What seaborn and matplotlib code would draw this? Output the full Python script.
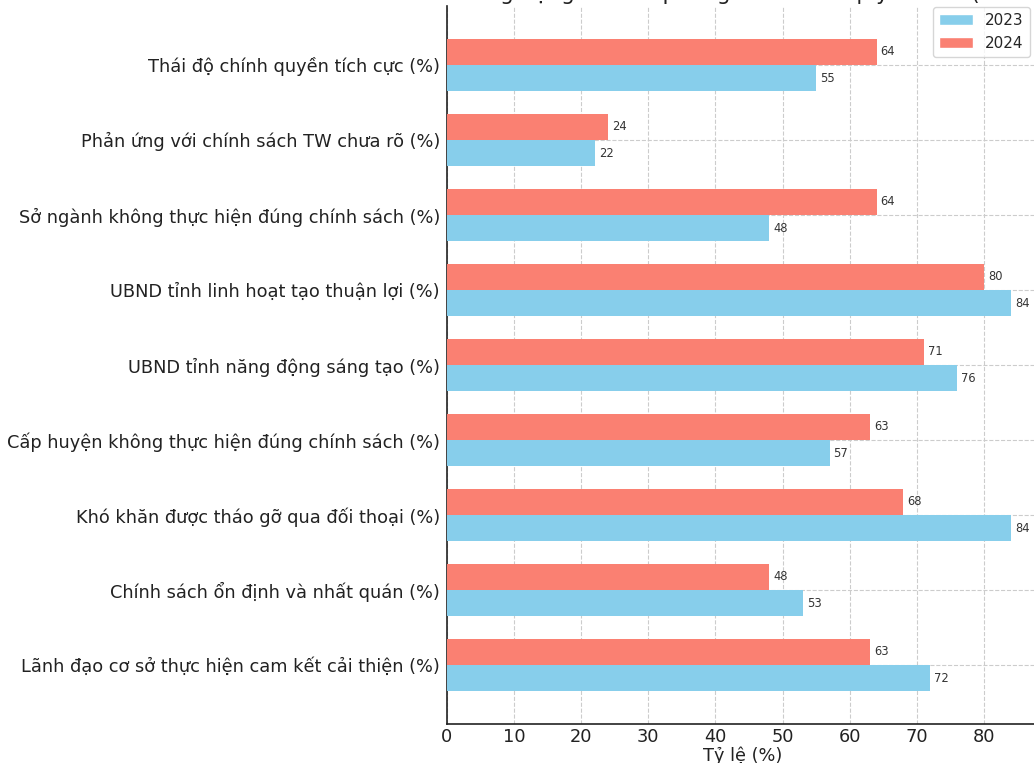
import matplotlib
matplotlib.use("Agg")
import matplotlib.pyplot as plt
import seaborn as sns
import pandas as pd
from matplotlib.patches import Patch

categories = [
    "Thái độ chính quyền tích cực (%)",
    "Phản ứng với chính sách TW chưa rõ (%)",
    "Sở ngành không thực hiện đúng chính sách (%)",
    "UBND tỉnh linh hoạt tạo thuận lợi (%)",
    "UBND tỉnh năng động sáng tạo (%)",
    "Cấp huyện không thực hiện đúng chính sách (%)",
    "Khó khăn được tháo gỡ qua đối thoại (%)",
    "Chính sách ổn định và nhất quán (%)",
    "Lãnh đạo cơ sở thực hiện cam kết cải thiện (%)",
]
values_2023 = [55, 22, 48, 84, 76, 57, 84, 53, 72]
values_2024 = [64, 24, 64, 80, 71, 63, 68, 48, 63]
years = ["2023", "2024"]
colors = {"2023": "#87CEEB", "2024": "#FA8072"}
title = "Tính năng động và tiên phong của chính quyền tỉnh (2023 vs 2024)"
xlabel = "Tỷ lệ (%)"

df = pd.DataFrame({
    "cat": categories * 2,
    "val": values_2023 + values_2024,
    "year": ["2023"] * len(categories) + ["2024"] * len(categories),
})

sns.set_style("white")
plt.rcParams["font.family"] = ["DejaVu Sans"]

fig = plt.figure(figsize=(10.34, 7.63), dpi=100)
ax = fig.add_axes([0.4323, 0.0511, 0.5725, 0.941])

sns.barplot(data=df, y="cat", x="val", hue="year", hue_order=["2024", "2023"],
            order=categories, palette=colors, saturation=1, orient="h",
            width=0.7, ax=ax, legend=False, edgecolor="none", zorder=3)

for cont in ax.containers:
    for bar in cont:
        w = bar.get_width()
        ax.text(w + 0.6, bar.get_y() + bar.get_height() / 2, f"{w:.0f}",
                ha="left", va="center", fontsize=8.3, color="#333333", zorder=4)

n = len(categories)
ax.set_ylim(n - 1 + 0.785, -0.785)
ax.set_xlim(0, max(values_2023 + values_2024) * 1.05)
ax.set_xticks(range(0, 90, 10))
ax.set_ylabel("")
ax.set_xlabel(xlabel, fontsize=12.8, color="#222222", labelpad=0)
ax.tick_params(axis="y", labelsize=12.8, colors="#222222", direction="in", length=4, pad=5)
ax.tick_params(axis="x", labelsize=12.8, colors="#222222", direction="in", length=4, pad=3)
ax.grid(True, linestyle="--", color="#cccccc", linewidth=0.8)
ax.set_axisbelow(True)
for s in ["top", "right"]:
    ax.spines[s].set_visible(False)
for s in ["left", "bottom"]:
    ax.spines[s].set_color("#222222")
    ax.spines[s].set_linewidth(1.2)

handles = [Patch(facecolor=colors[y], label=y) for y in years]
ax.legend(handles=handles, loc="upper right", fontsize=11, frameon=True,
          bbox_to_anchor=(0.992, 1.005), borderaxespad=0.3, handlelength=2.2)

fig.text(0.745, 1.0, title, ha="center", va="baseline", fontsize=15.5, color="#222222")

fig.savefig("out.png", dpi=100)
